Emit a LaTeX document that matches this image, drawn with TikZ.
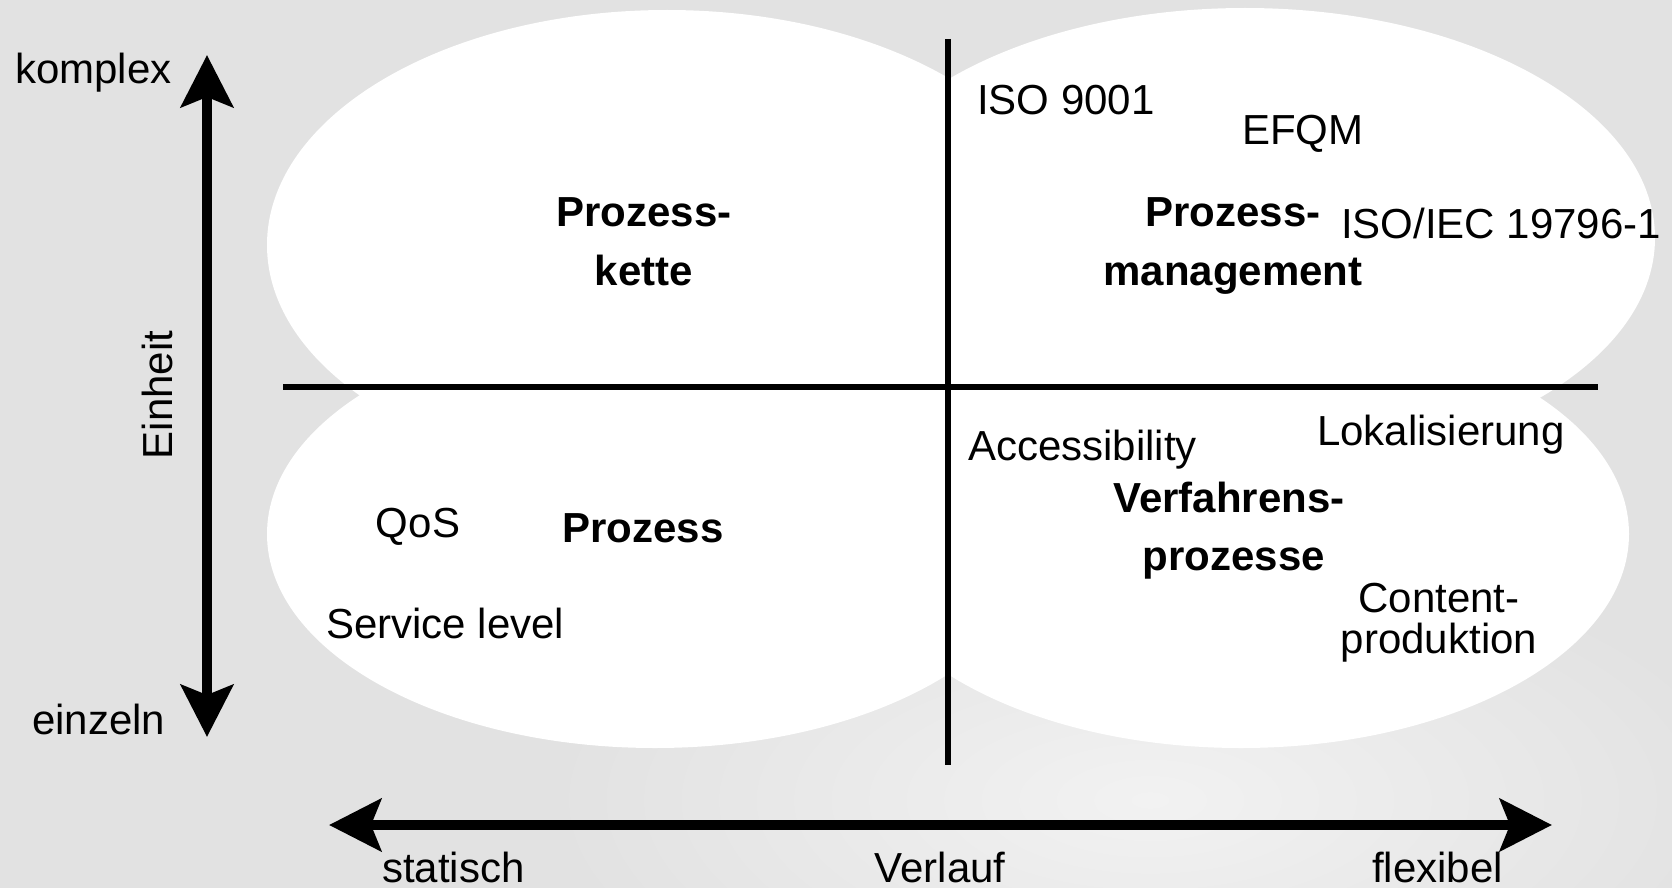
\documentclass[tikz,border=0pt]{standalone}
\usepackage{fontspec}
\setmainfont{Liberation Sans}
\usetikzlibrary{arrows.meta}
\definecolor{bg}{HTML}{E2E2E2}
\definecolor{bglight}{HTML}{F2F2F2}

\begin{document}
\begin{tikzpicture}[x=1pt, y=-1pt,
  lbl/.style={inner sep=0pt, font=\fontsize{42}{42}\selectfont},
  hd/.style={inner sep=0pt, font=\fontsize{42}{42}\selectfont\bfseries},
  axisline/.style={line width=6.5pt},
  bigarrow/.style={line width=10.5pt, {Stealth[length=52pt,width=52pt,inset=10pt]}-{Stealth[length=52pt,width=52pt,inset=10pt]}},
  blob/.style={fill=white}
]
% canvas
\fill[bg] (0,0) rectangle (1672,888);
\useasboundingbox (0,0) rectangle (1672,888);
\shade[inner color=bglight, outer color=bg] (1150,800) ellipse [x radius=600, y radius=260];

% four white ellipses forming the quadrant field
\fill[blob] (667,245) ellipse [x radius=400, y radius=235];
\fill[blob] (1245,238) ellipse [x radius=410, y radius=230];
\fill[blob] (655,534) ellipse [x radius=388, y radius=214];
\fill[blob] (1241,534) ellipse [x radius=388, y radius=214];

% quadrant axes
\coordinate (vt) at (948,39);
\coordinate (vb) at (948,765);
\coordinate (hlft) at (283,387);
\coordinate (hrgt) at (1598,387);
\draw[axisline] (vt) -- (vb);
\draw[axisline] (hlft) -- (hrgt);

% outer double arrows
\coordinate (atop) at (207,55);
\coordinate (abot) at (207,737);
\coordinate (aleft) at (329,825);
\coordinate (aright) at (1552,825);
\draw[bigarrow] (abot) -- (atop);
\draw[bigarrow] (aleft) -- (aright);

% axis labels
\node[lbl, anchor=base west] (komplex) at (15,84) {komplex};
\node[lbl, anchor=base west] (einzeln) at (32,734) {einzeln};
\node[lbl, rotate=90] (einheit) at (157,395) {Einheit};
\node[lbl, anchor=base west] (statisch) at (382,882) {statisch};
\node[lbl, anchor=base] (verlauf) at (940,882) {Verlauf};
\node[lbl, anchor=base west] (flexibel) at (1372,882) {flexibel};

% quadrant headings
\node[hd, anchor=base] (kette1) at (644,226) {Prozess-};
\node[hd, anchor=base] (kette2) at (644,285) {kette};
\node[hd, anchor=base] (mgmt1) at (1233,226) {Prozess-};
\node[hd, anchor=base] (mgmt2) at (1233,285) {management};
\node[hd, anchor=base] (proz) at (643,542) {Prozess};
\node[hd, anchor=base] (verf1) at (1229,512) {Verfahrens-};
\node[hd, anchor=base] (verf2) at (1234,570) {prozesse};

% examples
\node[lbl, anchor=base west] (iso) at (977,114) {ISO 9001};
\node[lbl, anchor=base west] (efqm) at (1242,144) {EFQM};
\node[lbl, anchor=base west] (isoiec) at (1341,238) {ISO/IEC 19796-1};
\node[lbl, anchor=base west] (access) at (968,460) {Accessibility};
\node[lbl, anchor=base west] (lokal) at (1317,445) {Lokalisierung};
\node[lbl, anchor=base] (qos) at (418,537) {QoS};
\node[lbl, anchor=base west] (slevel) at (326,638) {Service level};
\node[lbl, anchor=base] (cont1) at (1439,612) {Content-};
\node[lbl, anchor=base] (cont2) at (1439,653) {produktion};
\end{tikzpicture}
\end{document}
